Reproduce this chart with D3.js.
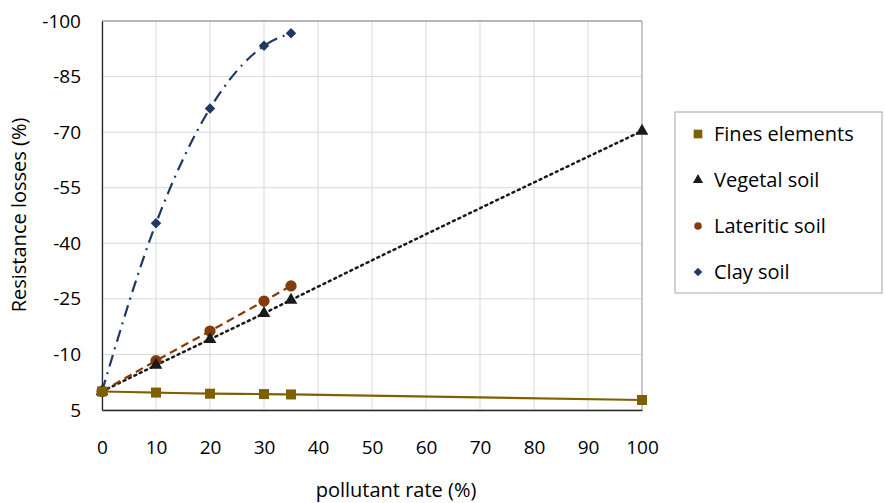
<!DOCTYPE html>
<html>
<head>
<meta charset="utf-8">
<script src="https://cdn.jsdelivr.net/npm/d3@7"></script>
<style>
  body { margin: 0; background: #fff; }
  svg text { font-family: "Open Sans", "Noto Sans", sans-serif; fill: #000; }
  .grid line { stroke: #d9d9d9; stroke-width: 1; }
</style>
</head>
<body>
<div id="chart"></div>
<script>
var rates = [0, 10, 20, 30, 35, 100];
var ratesShort = [0, 10, 20, 30, 35];
var finesElements = [0, 0.3, 0.6, 0.7, 0.8, 2.3];
var vegetalSoil = [0, -7.1, -14.1, -21.1, -24.7, -70.3];
var lateriticSoil = [0, -8.3, -16.3, -24.4, -28.5];
var claySoil = [0, -45.4, -76.4, -93.3, -96.7];
var xTicks = [0, 10, 20, 30, 40, 50, 60, 70, 80, 90, 100];
var yTicks = [-100, -85, -70, -55, -40, -25, -10, 5];

var margin = {top: 21, left: 102, right: 243, bottom: 93},
    width = 885 - margin.left - margin.right,
    height = 503 - margin.top - margin.bottom;

var svg = d3.select("#chart").append("svg").attr("width", 885).attr("height", 503);
var g = svg.append("g").attr("transform", "translate(" + margin.left + "," + margin.top + ")");

var x = d3.scaleLinear().domain([0, 100]).range([0, width]);
var y = d3.scaleLinear().domain([5, -100]).range([height, 0]);

// grid
var grid = g.append("g").attr("class", "grid");
grid.selectAll(".v").data(xTicks).enter().append("line")
    .attr("x1", function(d) { return x(d); }).attr("x2", function(d) { return x(d); })
    .attr("y1", 0).attr("y2", height);
grid.selectAll(".h").data(yTicks).enter().append("line")
    .attr("x1", 0).attr("x2", width)
    .attr("y1", function(d) { return y(d); }).attr("y2", function(d) { return y(d); });

// plot border top/right
g.append("line").attr("x1", 0).attr("x2", width).attr("y1", 0).attr("y2", 0).attr("stroke", "#808080");
g.append("line").attr("x1", width).attr("x2", width).attr("y1", 0).attr("y2", height).attr("stroke", "#a6a6a6");

// axes
var xAxis = g.append("g").attr("transform", "translate(0," + height + ")")
    .call(d3.axisBottom(x).tickValues(xTicks).tickSize(0).tickPadding(31));
var yAxis = g.append("g")
    .call(d3.axisLeft(y).tickValues(yTicks).tickSize(0).tickPadding(21).tickFormat(function(d) { return String(d); }));
[xAxis, yAxis].forEach(function(a) {
    a.select(".domain").attr("stroke", "#262626").attr("stroke-width", 1.3);
    a.selectAll("text").style("font-size", "19px");
});

var series = [
    {name: "Fines elements", xs: rates, ys: finesElements, color: "#7f6000", dash: null, marker: "square", width: 2.2},
    {name: "Vegetal soil", xs: rates, ys: vegetalSoil, color: "#1a1a1a", dash: "2,4", marker: "triangle", width: 2.5},
    {name: "Lateritic soil", xs: ratesShort, ys: lateriticSoil, color: "#843c0c", dash: "8,5", marker: "circle", width: 2.2},
    {name: "Clay soil", xs: ratesShort, ys: claySoil, color: "#1f3864", dash: "12,6,2,6", marker: "diamond", width: 2.2}
];

var symbolType = {square: d3.symbolSquare, triangle: d3.symbolTriangle, circle: d3.symbolCircle, diamond: d3.symbolSquare};
var symbolSize = {square: 100, triangle: 70, circle: 100, diamond: 55};
var symbolRot = {square: 0, triangle: 0, circle: 0, diamond: 45};

var line = d3.line()
    .x(function(d) { return x(d[0]); })
    .y(function(d) { return y(d[1]); })
    .curve(d3.curveMonotoneX);

series.forEach(function(s) {
    var pts = s.xs.map(function(v, i) { return [v, s.ys[i]]; });
    g.append("path").datum(pts)
        .attr("fill", "none").attr("stroke", s.color)
        .attr("stroke-width", s.width)
        .attr("stroke-dasharray", s.dash)
        .attr("stroke-linecap", s.marker === "triangle" ? "round" : "butt")
        .attr("d", line);
});
series.slice().reverse().forEach(function(s) {
    var pts = s.xs.map(function(v, i) { return [v, s.ys[i]]; });
    g.selectAll(null).data(pts).enter().append("path")
        .attr("transform", function(d) { return "translate(" + x(d[0]) + "," + y(d[1]) + ") rotate(" + symbolRot[s.marker] + ")"; })
        .attr("d", d3.symbol().type(symbolType[s.marker]).size(symbolSize[s.marker]))
        .attr("fill", s.color);
});

// axis titles
svg.append("text").attr("x", 396).attr("y", 497)
    .attr("text-anchor", "middle").style("font-size", "20px").text("pollutant rate (%)");
svg.append("text").attr("transform", "translate(26," + (margin.top + 194) + ") rotate(-90)")
    .attr("text-anchor", "middle").style("font-size", "20px").text("Resistance losses (%)");

// legend
var legend = svg.append("g").attr("transform", "translate(675,112)");
legend.append("rect").attr("width", 207).attr("height", 181)
    .attr("fill", "#fff").attr("stroke", "#a6a6a6").attr("stroke-width", 1);
series.forEach(function(s, i) {
    var cy = 22 + i * 46;
    legend.append("path")
        .attr("transform", "translate(23," + cy + ") rotate(" + symbolRot[s.marker] + ")")
        .attr("d", d3.symbol().type(symbolType[s.marker]).size(s.marker === "square" ? 75 : s.marker === "diamond" ? 36 : 45))
        .attr("fill", s.color);
    legend.append("text").attr("x", 39).attr("y", cy).attr("dy", "0.35em")
        .style("font-size", "20px").text(s.name);
});
</script>
</body>
</html>
